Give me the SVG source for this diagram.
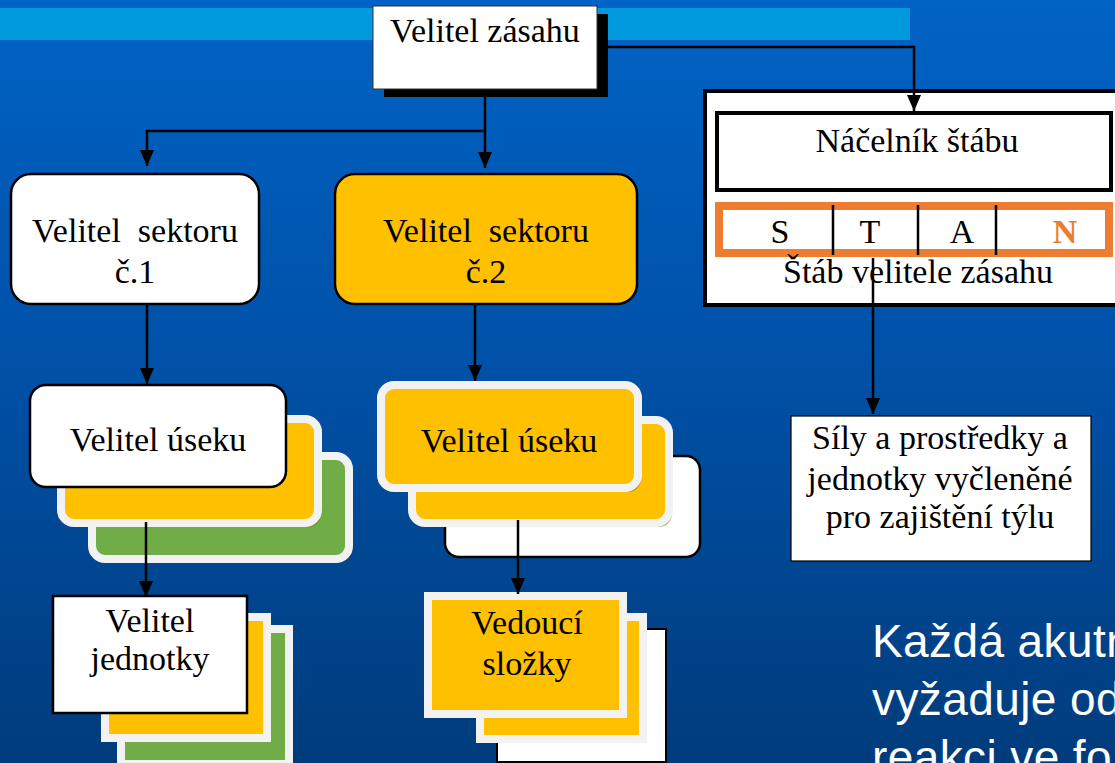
<svg xmlns="http://www.w3.org/2000/svg" width="1115" height="763" viewBox="0 0 1115 763">
<defs>
<linearGradient id="bg" x1="0" y1="0" x2="0" y2="1">
<stop offset="0" stop-color="#0063C5"/>
<stop offset="0.5" stop-color="#0050A6"/>
<stop offset="1" stop-color="#003C7C"/>
</linearGradient>
<marker id="arr" markerUnits="userSpaceOnUse" markerWidth="16" markerHeight="14" refX="16" refY="7" orient="auto" viewBox="0 0 16 14">
<path d="M0,0 L16,7 L0,14 z" fill="#000"/>
</marker>
</defs>
<style>
.t{font-family:"Liberation Serif","Times New Roman",serif;font-size:34px;fill:#000;text-anchor:middle}
.ln{fill:none;stroke:#000;stroke-width:2.5}
.ya{fill:#FFC000;stroke:#F2F2F2;stroke-width:8}
.ga{fill:#70AD47;stroke:#F2F2F2;stroke-width:8}
.ys{fill:#7F6000;opacity:0.5}
.gs{fill:#2F4A1E;opacity:0.5}
.wb{fill:#fff;stroke:#000;stroke-width:2.5}
</style>
<rect x="0" y="0" width="1115" height="763" fill="url(#bg)"/>
<rect x="0" y="8" width="910" height="32" fill="#0099DE"/>

<g id="velitel-zasahu">
<rect x="384" y="14" width="224" height="83" fill="#000"/>
<rect x="373" y="6" width="224" height="83" fill="#fff" stroke="#333" stroke-width="1"/>
<text class="t" x="485" y="42">Velitel zásahu</text>
</g>

<g id="stab">
<rect x="705" y="91" width="420" height="214" fill="#fff" stroke="#000" stroke-width="4"/>
<rect x="717" y="113" width="394" height="77" fill="#fff" stroke="#000" stroke-width="4"/>
<text class="t" x="917" y="152">Náčelník štábu</text>
<rect x="719" y="206" width="390" height="47" fill="#fff" stroke="#ED7D31" stroke-width="8"/>
<g stroke="#000" stroke-width="2.5">
<line x1="833" y1="205" x2="833" y2="255"/>
<line x1="918" y1="205" x2="918" y2="255"/>
<line x1="996" y1="205" x2="996" y2="255"/>
</g>
<text class="t" x="780" y="243">S</text>
<text class="t" x="870" y="243">T</text>
<text class="t" x="962" y="243">A</text>
<text class="t" x="1065" y="243" style="fill:#ED7D31;font-weight:bold">N</text>
<text class="t" x="918" y="283">Štáb velitele zásahu</text>
</g>

<g id="sektor1">
<rect x="11" y="174" width="248" height="130" rx="20" class="wb"/>
<text class="t" x="135" y="242" xml:space="preserve">Velitel  sektoru</text>
<text class="t" x="135" y="283">č.1</text>
</g>

<g id="sektor2">
<rect x="335" y="174" width="302" height="130" rx="20" fill="#FFC000" stroke="#000" stroke-width="2.5"/>
<text class="t" x="486" y="242" xml:space="preserve">Velitel  sektoru</text>
<text class="t" x="486" y="283">č.2</text>
</g>

<g id="usek1">
<rect x="95" y="460" width="257" height="103" rx="13" class="gs"/>
<rect x="92" y="456" width="257" height="103" rx="13" class="ga"/>
<rect x="64" y="423" width="257" height="104" rx="13" class="ys"/>
<rect x="61" y="419" width="257" height="104" rx="13" class="ya"/>
<rect x="30" y="385" width="256" height="102" rx="16" class="wb"/>
<text class="t" x="158" y="451">Velitel úseku</text>
</g>

<g id="usek2">
<rect x="445" y="456" width="255" height="101" rx="14" class="wb"/>
<rect x="415" y="424" width="257" height="103" rx="13" class="ys"/>
<rect x="412" y="420" width="257" height="103" rx="13" class="ya"/>
<rect x="384" y="389" width="257" height="103" rx="13" class="ys"/>
<rect x="381" y="385" width="257" height="103" rx="13" class="ya"/>
<text class="t" x="509" y="452">Velitel úseku</text>
</g>

<g id="jednotka">
<rect x="124" y="633" width="168" height="135" class="gs"/>
<rect x="121" y="629" width="168" height="135" class="ga"/>
<rect x="108" y="621" width="162" height="121" class="ys"/>
<rect x="105" y="617" width="162" height="121" class="ya"/>
<rect x="53" y="596" width="194" height="117" class="wb"/>
<text class="t" x="150" y="632">Velitel</text>
<text class="t" x="150" y="670">jednotky</text>
</g>

<g id="slozka">
<rect x="497" y="629" width="169" height="133" fill="#fff" stroke="#000" stroke-width="2"/>
<rect x="483" y="621" width="163" height="122" class="ys"/>
<rect x="480" y="617" width="163" height="122" class="ya"/>
<rect x="431" y="600" width="195" height="118" class="ys"/>
<rect x="428" y="596" width="195" height="118" class="ya"/>
<text class="t" x="527" y="634">Vedoucí</text>
<text class="t" x="527" y="675">složky</text>
</g>

<g id="tyl">
<rect x="791" y="416" width="300" height="145" fill="#fff" stroke="#000" stroke-width="1.2"/>
<text class="t" x="940" y="449">Síly a prostředky a</text>
<text class="t" x="940" y="490">jednotky vyčleněné</text>
<text class="t" x="940" y="528">pro zajištění týlu</text>
</g>

<g id="connectors">
<polyline class="ln" points="608,47 914,47 914,111" marker-end="url(#arr)"/>
<polyline class="ln" points="485,97 485,168" marker-end="url(#arr)"/>
<polyline class="ln" points="485,131 147,131 147,166" marker-end="url(#arr)"/>
<polyline class="ln" points="147,304 147,384" marker-end="url(#arr)"/>
<polyline class="ln" points="475,304 475,381" marker-end="url(#arr)"/>
<polyline class="ln" points="146,522 146,597" marker-end="url(#arr)"/>
<polyline class="ln" points="518,520 518,594" marker-end="url(#arr)"/>
<polyline class="ln" points="873,258 873,414" marker-end="url(#arr)"/>
</g>

<g id="caption" font-family="'Liberation Sans',Arial,sans-serif" font-size="46" fill="#fff" letter-spacing="0.4">
<text x="872" y="657">Každá akutn</text>
<text x="872" y="715">vyžaduje od</text>
<text x="872" y="773">reakci ve fo</text>
</g>
</svg>
